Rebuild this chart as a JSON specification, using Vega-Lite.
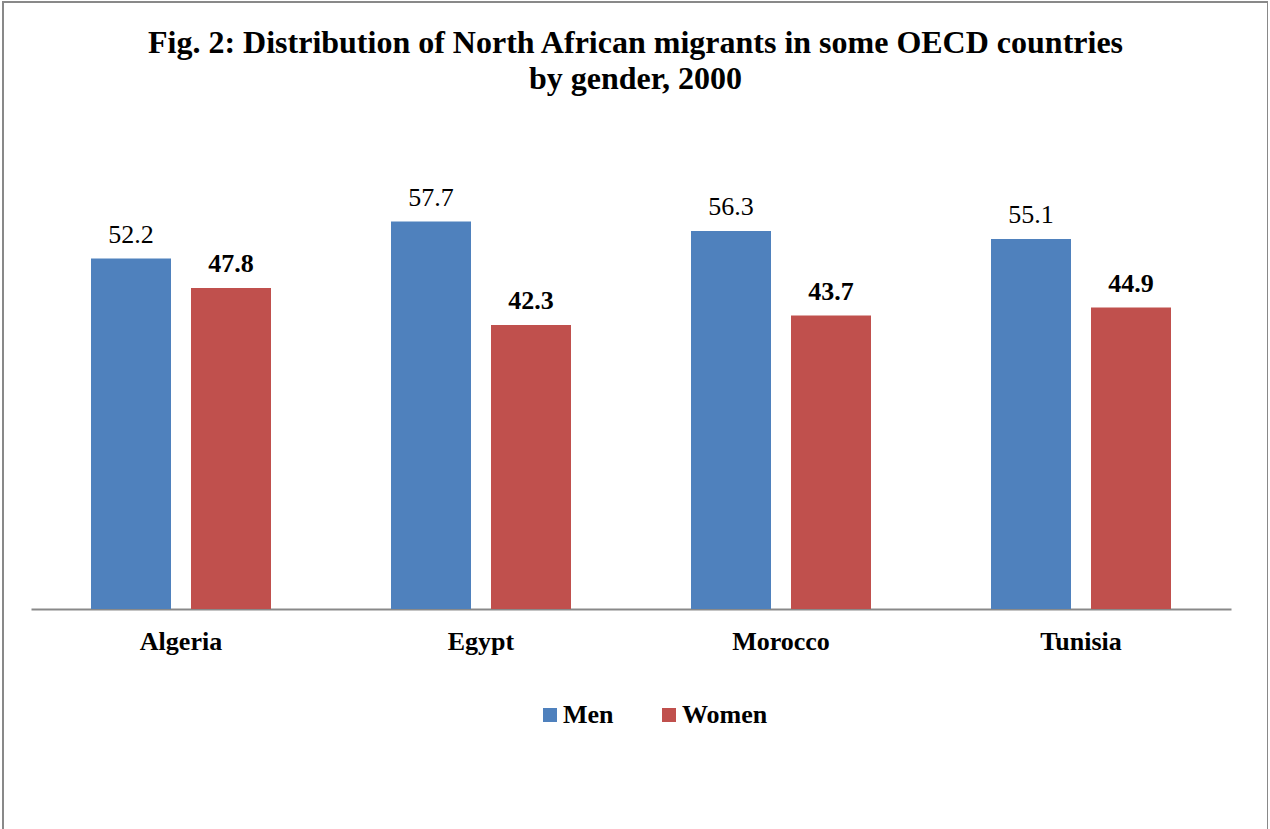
{
  "$schema": "https://vega.github.io/schema/vega-lite/v6.json",
  "width": 1265,
  "height": 840,
  "autosize": {"type": "none"},
  "padding": {"left": 3, "top": 2, "right": 0, "bottom": 0},
  "background": "white",
  "config": {
    "view": {"stroke": "#898989", "strokeWidth": 2},
    "font": "Liberation Serif"
  },
  "title": {
    "text": ["Fig. 2: Distribution of North African migrants in some OECD countries", "by gender, 2000"],
    "font": "Liberation Serif",
    "fontSize": 32,
    "fontWeight": "bold",
    "color": "black",
    "anchor": "middle",
    "frame": "group",
    "offset": -94,
    "lineHeight": 36
  },
  "data": {
    "values": [
      {"country": "Algeria", "gender": "Men", "value": 52.2},
      {"country": "Algeria", "gender": "Women", "value": 47.8},
      {"country": "Egypt", "gender": "Men", "value": 57.7},
      {"country": "Egypt", "gender": "Women", "value": 42.3},
      {"country": "Morocco", "gender": "Men", "value": 56.3},
      {"country": "Morocco", "gender": "Women", "value": 43.7},
      {"country": "Tunisia", "gender": "Men", "value": 55.1},
      {"country": "Tunisia", "gender": "Women", "value": 44.9}
    ]
  },
  "encoding": {
    "x": {
      "field": "country",
      "type": "nominal",
      "sort": null,
      "scale": {"range": [28, 1228], "paddingInner": 0.4, "paddingOuter": 0.2},
      "axis": {
        "orient": "bottom",
        "offset": -233,
        "title": null,
        "ticks": false,
        "domainColor": "#898989",
        "domainWidth": 2,
        "labelFont": "Liberation Serif",
        "labelFontWeight": "bold",
        "labelFontSize": 26,
        "labelColor": "black",
        "labelPadding": 19,
        "labelAngle": 0
      }
    },
    "xOffset": {
      "field": "gender",
      "type": "nominal",
      "sort": ["Men", "Women"],
      "scale": {"paddingInner": 0.2, "paddingOuter": 0}
    },
    "y": {
      "field": "value",
      "type": "quantitative",
      "scale": {"domain": [0, 70], "range": [607, 137]},
      "axis": null
    }
  },
  "layer": [
    {
      "mark": {"type": "bar"},
      "encoding": {
        "color": {
          "field": "gender",
          "type": "nominal",
          "scale": {"domain": ["Men", "Women"], "range": ["#4F81BD", "#C0504D"]},
          "legend": {
            "orient": "none",
            "legendX": 534,
            "legendY": 700,
            "direction": "horizontal",
            "title": null,
            "symbolType": "square",
            "symbolSize": 196,
            "symbolStrokeWidth": 0,
            "labelFont": "Liberation Serif",
            "labelFontWeight": "bold",
            "labelFontSize": 26,
            "labelColor": "black",
            "labelOffset": 0,
            "columnPadding": 42,
            "padding": 0
          }
        }
      }
    },
    {
      "transform": [{"filter": "datum.gender === 'Men'"}],
      "mark": {"type": "text", "dy": -16, "baseline": "alphabetic", "fontSize": 26, "font": "Liberation Serif", "color": "black"},
      "encoding": {"text": {"field": "value", "type": "quantitative", "format": ".1f"}}
    },
    {
      "transform": [{"filter": "datum.gender === 'Women'"}],
      "mark": {"type": "text", "dy": -16, "baseline": "alphabetic", "fontSize": 26, "fontWeight": "bold", "font": "Liberation Serif", "color": "black"},
      "encoding": {"text": {"field": "value", "type": "quantitative", "format": ".1f"}}
    }
  ]
}
